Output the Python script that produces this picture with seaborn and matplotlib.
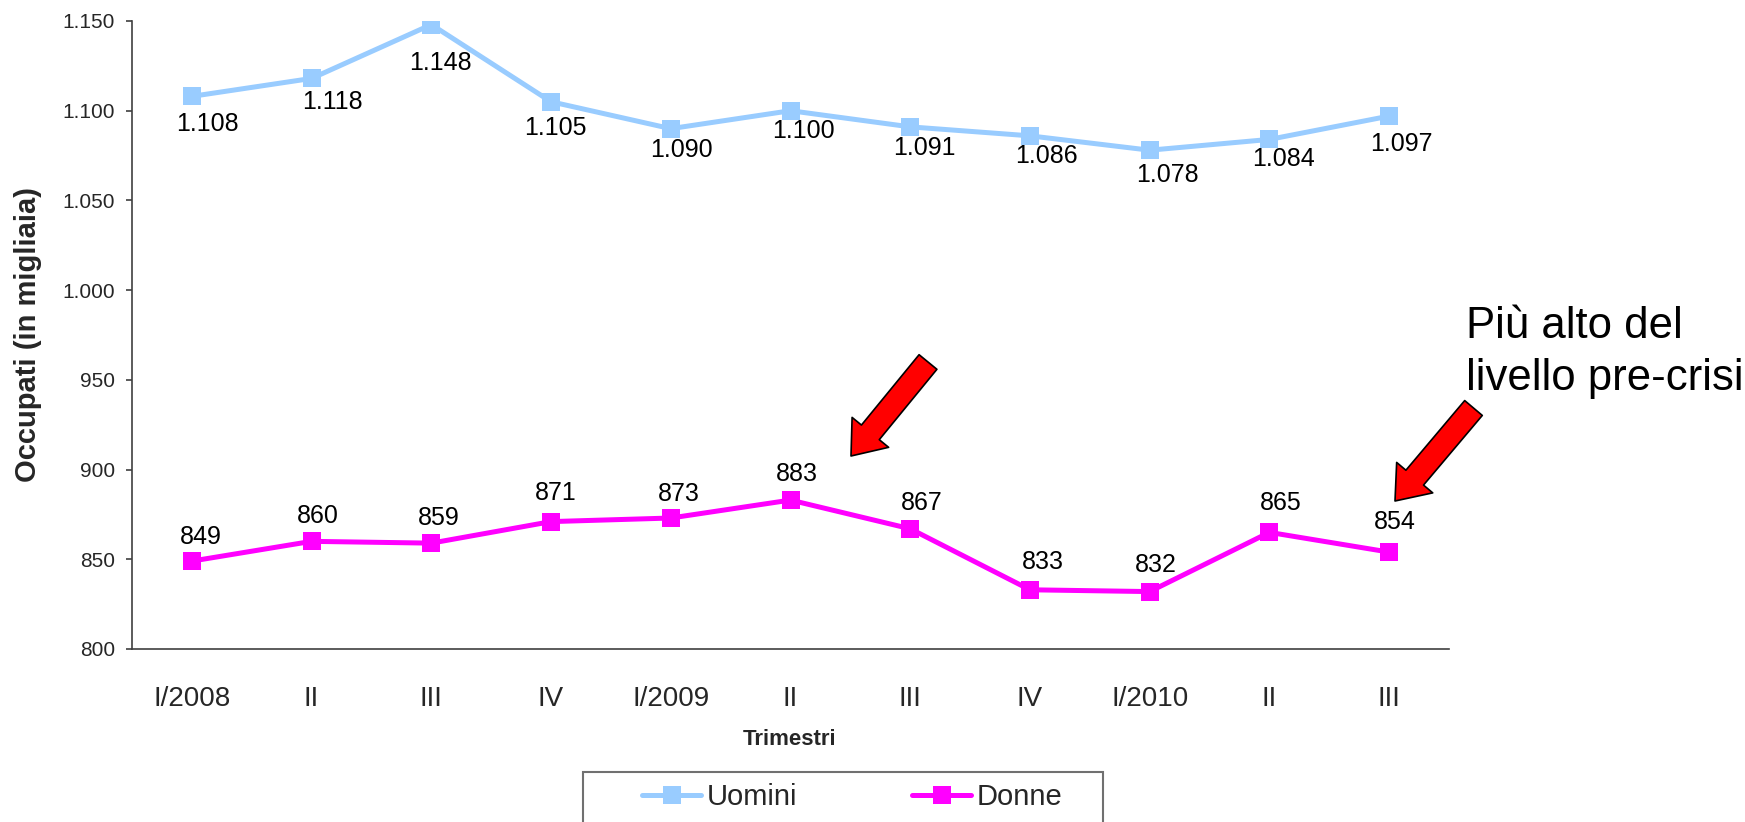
import matplotlib
matplotlib.use("Agg")
import matplotlib.pyplot as plt
from matplotlib.patches import Rectangle
import seaborn as sns
import pandas as pd

# Quarterly employment (thousands)
trimestri = ["I/2008", "II", "III", "IV", "I/2009", "II", "III", "IV", "I/2010", "II", "III"]
uomini = [1108, 1118, 1148, 1105, 1090, 1100, 1091, 1086, 1078, 1084, 1097]
donne = [849, 860, 859, 871, 873, 883, 867, 833, 832, 865, 854]
y_ticks = [800, 850, 900, 950, 1000, 1050, 1100, 1150]

# Hand-placed nudges for the value labels, in pixels (dx right, dy down)
uomini_nudge = [(15.5, 27.5), (21, 24), (9, 38), (4, 26), (11, 21), (12.5, 20.5),
                (14, 20.7), (16, 20), (18, 24.4), (14, 20), (12.6, 28)]
donne_nudge = [(9, -24), (6.5, -25.6), (7.5, -25.3), (5, -28.3), (8, -24), (6, -26),
               (12, -25.3), (13, -28), (6.5, -27), (11, -29), (6, -30.6)]

COL_U = "#99CCFF"
COL_D = "#FF00FF"
AX_COL = "#404040"
W, H = 1745, 822


def it_fmt(v):
    return f"{v:,}".replace(",", ".")


sns.set_style("white")
plt.rcParams["font.family"] = ["Liberation Sans", "DejaVu Sans"]

fig = plt.figure(figsize=(W / 100, H / 100), dpi=100)
ax = fig.add_axes([132 / W, 1 - 649 / H, (1449 - 132) / W, (649 - 21) / H])

n = len(trimestri)
df = pd.DataFrame({
    "pos": list(range(n)) * 2,
    "valore": uomini + donne,
    "serie": ["Uomini"] * n + ["Donne"] * n,
})

sns.lineplot(data=df, x="pos", y="valore", hue="serie",
             palette={"Uomini": COL_U, "Donne": COL_D},
             marker="s", markersize=13, markeredgewidth=0, linewidth=3.6,
             errorbar=None, ax=ax, legend=False)

# value labels
for i, v in enumerate(uomini):
    dx, dy = uomini_nudge[i]
    ax.annotate(it_fmt(v), xy=(i, v), xytext=(dx, -dy), textcoords="offset pixels",
                ha="center", va="center", fontsize=18, color="black")
for i, v in enumerate(donne):
    dx, dy = donne_nudge[i]
    ax.annotate(it_fmt(v), xy=(i, v), xytext=(dx, -dy), textcoords="offset pixels",
                ha="center", va="center", fontsize=18, color="black")

# axes
ax.set_xlim(-0.5, n - 0.5)
ax.set_ylim(y_ticks[0], y_ticks[-1])
ax.set_yticks(y_ticks)
ax.set_yticklabels([it_fmt(t) for t in y_ticks], fontsize=15)
ax.set_xticks(range(n))
ax.set_xticklabels(trimestri, fontsize=20)
ax.set_xticks([i - 0.5 for i in range(n + 1)], minor=True)
ax.tick_params(axis="x", which="major", length=0, pad=26.5)
ax.tick_params(axis="x", which="minor", length=7.2, width=1.2, color=AX_COL, direction="out")
ax.tick_params(axis="y", which="major", length=4.3, width=1.2, color=AX_COL, direction="out", pad=8,
               left=True)
for side in ("top", "right"):
    ax.spines[side].set_visible(False)
for side in ("left", "bottom"):
    ax.spines[side].set_color(AX_COL)
    ax.spines[side].set_linewidth(1.2)
ax.grid(False)

ax.set_ylabel("Occupati (in migliaia)", fontsize=21, fontweight="bold")
ax.yaxis.set_label_coords(-0.068, 0.5)
ax.set_xlabel("Trimestri", fontsize=16, fontweight="bold")
ax.xaxis.set_label_coords(0.4996, -0.128)

# legend with its own frame
lines = ax.get_lines()
fig.legend(lines[:2], ["Uomini", "Donne"], loc="center",
           bbox_to_anchor=(852.5 / W, 1 - 797 / H), ncol=2, frameon=False,
           fontsize=21, handlelength=2.02, handletextpad=0.2, columnspacing=3.94)
fig.patches.append(Rectangle((583 / W, -0.02), (1103 - 583) / W, (H - 772) / H + 0.02,
                             transform=fig.transFigure, fill=False,
                             edgecolor="#707070", linewidth=1.5))

# callout arrows
arrow_style = "simple,head_length=1.1,head_width=1.7,tail_width=0.83"
for tip, tail in [((851, H - 456), (928, H - 362)), ((1395, H - 501), (1473.5, H - 408))]:
    ax.annotate("", xy=tip, xycoords="figure pixels", xytext=tail, textcoords="figure pixels",
                arrowprops=dict(arrowstyle=arrow_style, mutation_scale=20, fc="#FF0000",
                                ec="black", lw=1.2, shrinkA=0, shrinkB=0),
                annotation_clip=False)

fig.text(1466 / W, 1 - 390 / H, "Più alto del\nlivello pre-crisi", fontsize=31.5,
         ha="left", va="baseline", linespacing=1.33, color="black")

fig.savefig("out.png", dpi=100, facecolor="white")
